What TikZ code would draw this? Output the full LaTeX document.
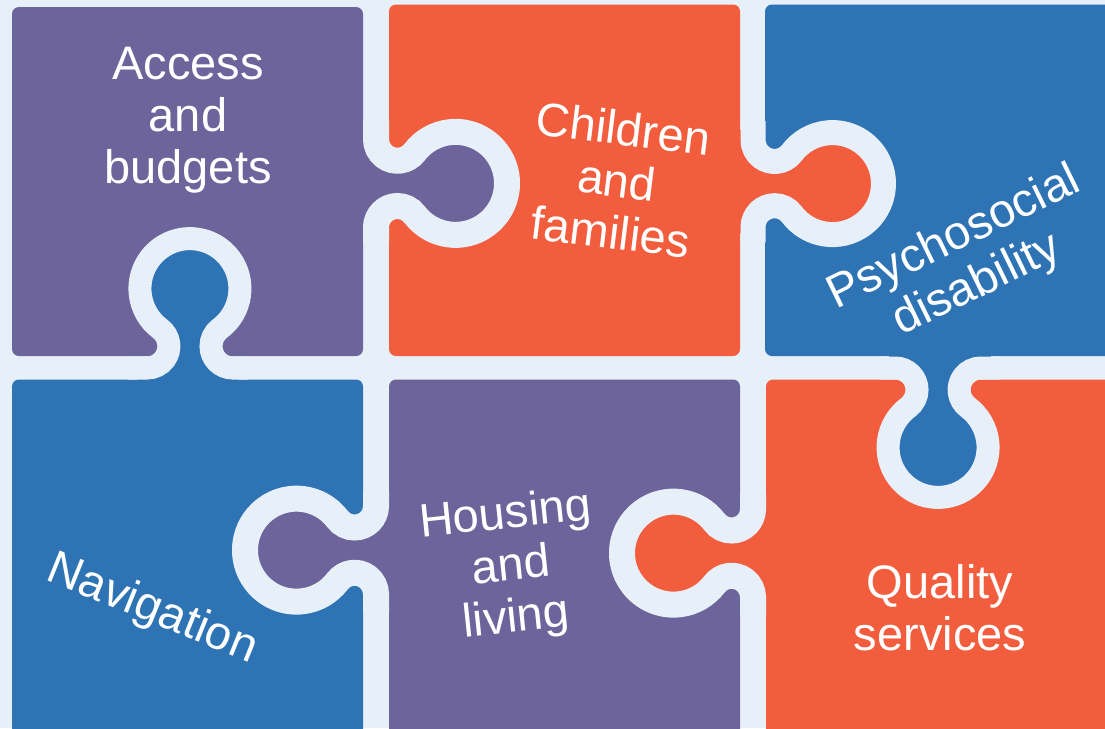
\documentclass[tikz,border=0pt]{standalone}
\usepackage{fontspec}
\setmainfont{Liberation Sans}
\usepackage{tikz}

\definecolor{pcbg}{RGB}{231,239,249}
\definecolor{pcpurple}{RGB}{108,100,154}
\definecolor{pcorange}{RGB}{242,93,62}
\definecolor{pcblue}{RGB}{46,116,180}

% knob of one piece into its neighbour: #1 foot on the gap line,
% #2 direction, #3 colour of the piece, #4 width of the gap
\newcommand{\puzzleknob}[4]{%
  \begin{scope}[shift={#1}, rotate=#2]
    \pgfmathsetmacro{\kr}{\holer+#4/2}
    \pgfmathsetmacro{\kn}{\neckw+#4/2}
    \pgfmathsetmacro{\kb}{(\knobd*\knobd+\kn*\kn-\kr*\kr)/(2*(\knobd-\kn+\kr))}
    \pgfmathsetmacro{\ky}{\kn+\kb}
    \pgfmathsetmacro{\ka}{atan(\ky/(\knobd-\kb))}
    \pgfmathsetmacro{\kl}{\ky+15}
    \pgfmathsetmacro{\kf}{\ky+6}
    \fill[#3] (0,\kf) -- (0,\ky)
      arc[start angle=180, end angle=360-\ka, radius=\kb]
      arc[start angle=180-\ka, end angle=\ka-180, radius=\kr]
      arc[start angle=\ka, end angle=180, radius=\kb]
      -- (0,-\kf) -- (-20,-\kf) -- (-20,\kf) -- cycle;
    \draw[gapline, line width=#4] (0,\kl) -- (0,\ky)
      arc[start angle=180, end angle=360-\ka, radius=\kb]
      arc[start angle=180-\ka, end angle=\ka-180, radius=\kr]
      arc[start angle=\ka, end angle=180, radius=\kb]
      -- (0,-\kl);
  \end{scope}}

\begin{document}
\begin{tikzpicture}[x=1pt, y=-1pt,
    piece/.style={rounded corners=7},
    gapline/.style={draw=pcbg},
    piecetext/.style={text=white, align=center,
      font=\fontsize{47}{52}\selectfont}]
  % Sizes
  \pgfmathsetmacro{\knobd}{82}
  \pgfmathsetmacro{\holer}{38.5}
  \pgfmathsetmacro{\neckw}{11.5}

  \useasboundingbox (0,0) rectangle (1105,728);
  \clip (0,0) rectangle (1105,728);
  \fill[pcbg] (0,0) rectangle (1105,728);

  % pieces
  \fill[piece, pcpurple] (12,7) rectangle (363,356);
  \fill[piece, pcorange] (389,4.5) rectangle (740,356);
  \fill[piece, pcblue] (765,4.5) rectangle (1125,356);
  \fill[piece, pcblue] (12,379.5) rectangle (363,750);
  \fill[piece, pcpurple] (389,379.5) rectangle (740,750);
  \fill[piece, pcorange] (766,379.5) rectangle (1125,750);

  % knobs
  \puzzleknob{(376,181.5)}{0}{pcpurple}{26}
  \puzzleknob{(188,368)}{90}{pcblue}{23}
  \puzzleknob{(376,552)}{180}{pcpurple}{26}
  \puzzleknob{(753,555)}{180}{pcorange}{26}
  \puzzleknob{(940,368)}{-90}{pcblue}{23}
  \puzzleknob{(753,181.7)}{0}{pcorange}{25}

  % labels
  \node[piecetext] (access) at (188,120) {Access\\and\\budgets};
  \node[piecetext, rotate=-7] (children) at (617,180) {Children\\and\\families};
  \node[piecetext, rotate=26] (psycho) at (966,262) {Psychosocial\\disability};
  \node[piecetext, rotate=-22] (navigation) at (152,610) {Navigation};
  \node[piecetext, rotate=6] (housing) at (511,568) {Housing\\and\\living};
  \node[piecetext] (quality) at (940,608) {Quality\\services};
\end{tikzpicture}
\end{document}
